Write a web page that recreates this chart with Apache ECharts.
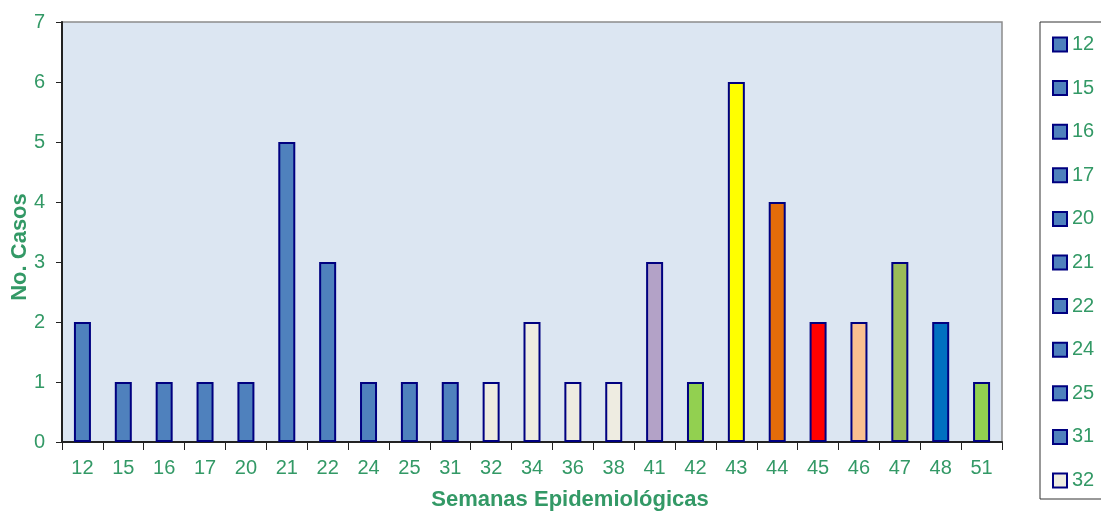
<!DOCTYPE html>
<html>
<head>
<meta charset="utf-8">
<script src="https://cdn.jsdelivr.net/npm/echarts@6/dist/echarts.min.js"></script>
<style>html,body{margin:0;padding:0;background:#fff}#c{width:1101px;height:514px}</style>
</head>
<body>
<div id="c"></div>
<script>
const categories = ['12','15','16','17','20','21','22','24','25','31','32','34','36','38','41','42','43','44','45','46','47','48','51'];
const values = [2,1,1,1,1,5,3,1,1,1,1,2,1,1,3,1,6,4,2,2,3,2,1];
const barColors = ['#4F81BD','#4F81BD','#4F81BD','#4F81BD','#4F81BD','#4F81BD','#4F81BD','#4F81BD','#4F81BD','#4F81BD',
  '#EEECE1','#EEECE1','#EEECE1','#EEECE1','#B3A2C7','#92D050','#FFFF00','#E36C09','#FF0000','#FAC090','#9BBB59','#0070C0','#92D050'];
const yTicks = [0,1,2,3,4,5,6,7];
const legendShown = categories.slice(0, 11);

const green = '#339966';
const series = categories.map((name, i) => ({
  name: name,
  type: 'bar',
  stack: 'all',
  barWidth: 17,
  data: categories.map((c, j) => j === i ? values[i] : '-'),
  itemStyle: { color: barColors[i], borderColor: '#000080', borderWidth: 2 },
  emphasis: { disabled: true }
}));

const chart = echarts.init(document.getElementById('c'), null, { renderer: 'canvas' });
chart.setOption({
  animation: false,
  textStyle: { fontFamily: 'Arial, Liberation Sans, sans-serif' },
  grid: { left: 62, top: 22, right: 99, bottom: 72, show: true, outerBoundsMode: 'none', containLabel: false,
    backgroundColor: '#DCE6F2', borderColor: '#8c8c8c', borderWidth: 1.5 },
  legend: {
    orient: 'vertical',
    left: 1040, top: 22,
    data: legendShown,
    icon: 'rect',
    itemWidth: 14, itemHeight: 14,
    itemGap: 23.6,
    padding: [12.5, 40, 8.5, 12],
    borderColor: '#333', borderWidth: 1,
    textStyle: { color: green, fontSize: 20 },
    selectedMode: false
  },
  xAxis: {
    type: 'category',
    data: categories,
    name: 'Semanas Epidemiológicas',
    nameLocation: 'middle',
    nameGap: 47,
    nameMoveOverlap: false,
    nameTextStyle: { color: green, fontSize: 22, fontWeight: 'bold', padding: [0, 0, 0, 76] },
    axisLine: { lineStyle: { color: '#222', width: 2 } },
    axisTick: { show: true, length: 8, lineStyle: { color: '#222' } },
    axisLabel: { color: green, fontSize: 20, margin: 16 }
  },
  yAxis: {
    type: 'value',
    min: 0, max: 7, interval: 1,
    name: 'No. Casos',
    nameLocation: 'middle',
    nameGap: 31,
    nameMoveOverlap: false,
    nameTextStyle: { color: green, fontSize: 22, fontWeight: 'bold', padding: [0, 30, 0, 0] },
    axisLine: { show: true, lineStyle: { color: '#222', width: 2 } },
    axisTick: { show: true, length: 6, lineStyle: { color: '#222' } },
    splitLine: { show: false },
    axisLabel: { color: green, fontSize: 20, margin: 17 }
  },
  series: series
});
</script>
</body>
</html>
